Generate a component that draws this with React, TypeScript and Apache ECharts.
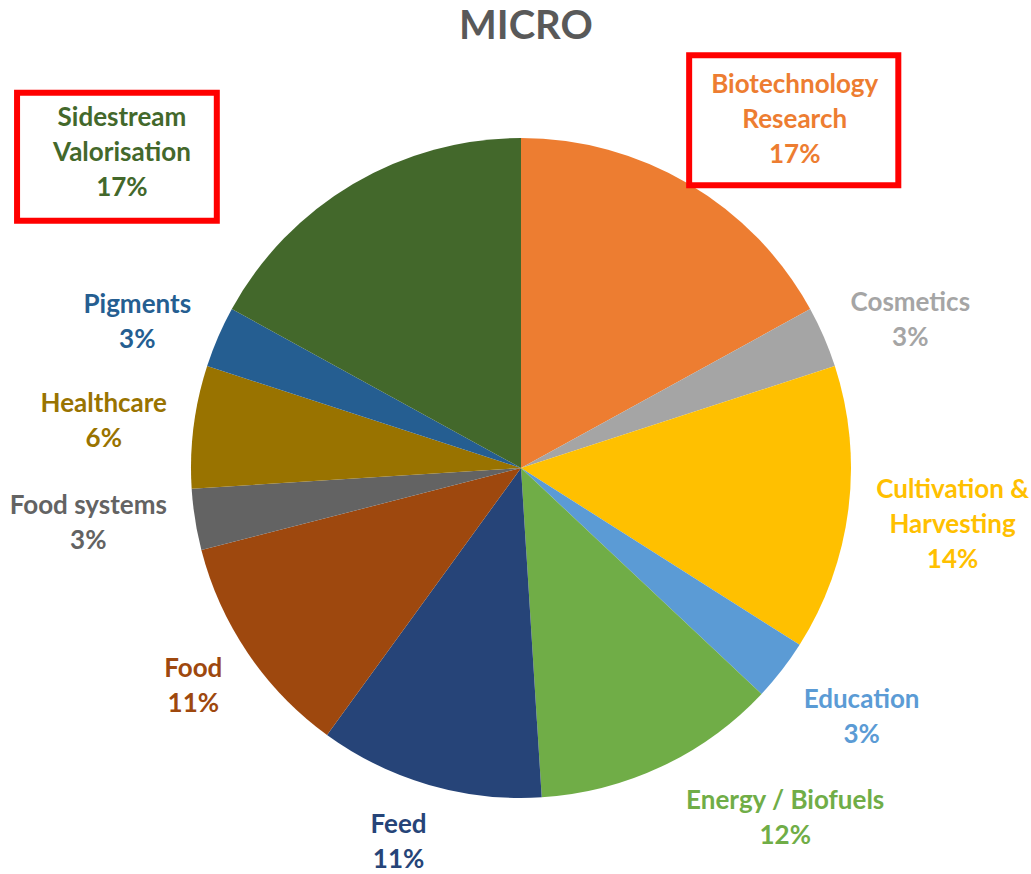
import React, { useEffect, useRef } from "react";
import * as echarts from "echarts";

const title = "MICRO";
const categories = [
  "Biotechnology\nResearch",
  "Cosmetics",
  "Cultivation &\nHarvesting",
  "Education",
  "Energy / Biofuels",
  "Feed",
  "Food",
  "Food systems",
  "Healthcare",
  "Pigments",
  "Sidestream\nValorisation",
];
const shares = [17, 3, 14, 3, 12, 11, 11, 3, 6, 3, 17];
const highlighted = ["Biotechnology\nResearch", "Sidestream\nValorisation"];

// styling / layout (not data)
const colors = [
  "#ED7D31", "#A5A5A5", "#FFC000", "#5B9BD5", "#70AD47", "#264478",
  "#9E480E", "#636363", "#997300", "#255E91", "#43682B",
];
const CX = 521;
const CY = 468;
const R = 330;
const labelDeltaAngle = [7.5, 2.4, 0, -1.8, -12, 2, 0.7, 2, -0.6, -2.4, -21.8];
const labelDist = [442, 417, 435, 421, 437, 392, 393, 436, 420, 411, 510];
const boxStyle: Record<string, { padding: number[]; gap: number }> = {
  "Biotechnology\nResearch": { padding: [7, 17, 8, 19], gap: 4 },
  "Sidestream\nValorisation": { padding: [3, 23, 4, 33], gap: 10 },
};

export default function App() {
  const ref = useRef<HTMLDivElement>(null);
  useEffect(() => {
    if (!ref.current) return;
    const chart = echarts.init(ref.current, null, { renderer: "svg" });
    const total = shares.reduce((a, b) => a + b, 0);
    const mids: number[] = [];
    let acc = 0;
    shares.forEach((v) => {
      mids.push(((acc + v / 2) / total) * 360);
      acc += v;
    });
    const font = "Lato, 'Open Sans', sans-serif";
    chart.setOption({
      animation: false,
      title: {
        text: title,
        left: 454,
        top: -1,
        textStyle: { fontFamily: font, fontWeight: "bold", fontSize: 40, color: "#595959" },
      },
      series: [
        {
          type: "pie",
          center: [CX, CY],
          radius: R,
          startAngle: 90,
          clockwise: true,
          avoidLabelOverlap: false,
          itemStyle: { borderWidth: 0 },
          labelLine: { show: false },
          data: categories.map((name, i) => {
            const hl = highlighted.includes(name);
            const bs = boxStyle[name];
            return {
              name,
              value: shares[i],
              itemStyle: { color: colors[i] },
              label: {
                show: true,
                position: "outside",
                formatter: hl ? "{b}\n{c}%\n{gap| }" : "{b}\n{c}%",
                color: colors[i],
                fontFamily: font,
                fontWeight: "bold",
                fontSize: 26,
                lineHeight: 35,
                align: "center",
                ...(hl
                  ? {
                      borderColor: "#FF0000",
                      borderWidth: 6,
                      backgroundColor: "#ffffff",
                      padding: bs.padding,
                      rich: { gap: { fontSize: 2, lineHeight: bs.gap, height: bs.gap } },
                    }
                  : {}),
              },
            };
          }),
          labelLayout: (params: any) => {
            const i = params.dataIndex;
            const a = ((mids[i] + labelDeltaAngle[i]) * Math.PI) / 180;
            const d = labelDist[i];
            return {
              x: CX + d * Math.sin(a),
              y: CY - d * Math.cos(a),
              align: "center",
              verticalAlign: "middle",
            };
          },
        },
      ],
    });
    return () => chart.dispose();
  }, []);
  return (
    <div
      ref={ref}
      style={{ position: "fixed", left: 0, top: 0, width: 1031, height: 874, background: "#fff" }}
    />
  );
}
